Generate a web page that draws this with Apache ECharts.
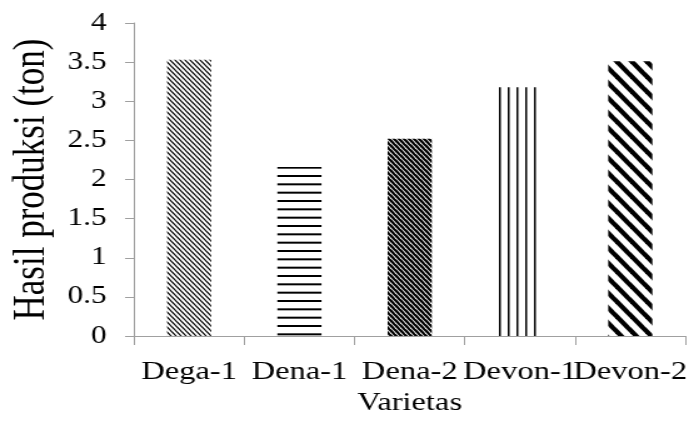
<!DOCTYPE html>
<html><head><meta charset="utf-8">
<script src="https://cdn.jsdelivr.net/npm/echarts@6/dist/echarts.min.js"></script>
<style>
html,body{margin:0;padding:0;background:#fff;overflow:hidden}
#wrap{width:689px;height:434px;overflow:hidden;position:relative}
#c{width:551px;height:434px;transform:scaleX(1.2505);transform-origin:0 0}
</style>
</head><body><div id="wrap"><div id="c"></div></div>
<script>
// ---- data ----
const categories = ['Dega-1', 'Dena-1', 'Dena-2', 'Devon-1', 'Devon-2'];
const values = [3.53, 2.16, 2.52, 3.18, 3.51];
const yMin = 0, yMax = 4, yStep = 0.5;
const xTitle = 'Varietas';
const yTitle = 'Hasil produksi (ton)';

// ---- hatch patterns ----
function tile(w, h, draw) {
  const c = document.createElement('canvas');
  c.width = w; c.height = h;
  const g = c.getContext('2d');
  g.fillStyle = '#fff'; g.fillRect(0, 0, w, h);
  g.fillStyle = '#000'; g.strokeStyle = '#000';
  draw(g, w, h);
  return c;
}
function diag(lw) {
  return function (g, w, h) {
    g.lineWidth = lw;
    for (const dx of [-w, 0, w]) {
      g.beginPath(); g.moveTo(dx - w * 0.2, -h * 0.2); g.lineTo(dx + w * 1.2, h * 1.2); g.stroke();
    }
  };
}
const patterns = [
  tile(4, 5, diag(1.1)),
  tile(4, 25, function (g, w) { [0, 8.33, 16.67].forEach(y => g.fillRect(0, y, w, 2)); }),
  tile(4, 5, diag(2.3)),
  tile(7, 4, function (g, w, h) { g.fillRect(0, 0, 1.5, h); }),
  tile(12, 15, diag(4.2))
];

const chart = echarts.init(document.getElementById('c'), null, { renderer: 'canvas' });
const font = 'Liberation Serif';
const axisColor = '#a0a0a0';
chart.setOption({
  backgroundColor: '#fff',
  animation: false,
  grid: { left: 94, right: 1, top: 23, bottom: 98, containLabel: false },
  xAxis: {
    type: 'category',
    data: categories,
    name: xTitle,
    nameLocation: 'middle',
    nameGap: 51,
    nameTextStyle: { fontFamily: font, fontSize: 26, color: '#000' },
    axisLine: { lineStyle: { color: axisColor, width: 1 } },
    axisTick: { show: true, length: 9, lineStyle: { color: axisColor } },
    axisLabel: { fontFamily: font, fontSize: 26, color: '#000', margin: 23, interval: 0 }
  },
  yAxis: {
    type: 'value',
    min: yMin, max: yMax, interval: yStep,
    name: yTitle,
    nameLocation: 'middle',
    nameGap: 56,
    nameTextStyle: { fontFamily: font, fontSize: 35, color: '#000' },
    axisLine: { show: true, lineStyle: { color: axisColor, width: 1 } },
    axisTick: { show: true, length: 7.2, lineStyle: { color: axisColor } },
    splitLine: { show: false },
    axisLabel: { fontFamily: font, fontSize: 25, color: '#000', margin: 22 }
  },
  series: [{
    type: 'bar',
    barWidth: '40%',
    data: values.map((v, i) => ({ value: v, itemStyle: { color: { image: patterns[i], repeat: 'repeat' } } }))
  }]
});
</script>
</body></html>
